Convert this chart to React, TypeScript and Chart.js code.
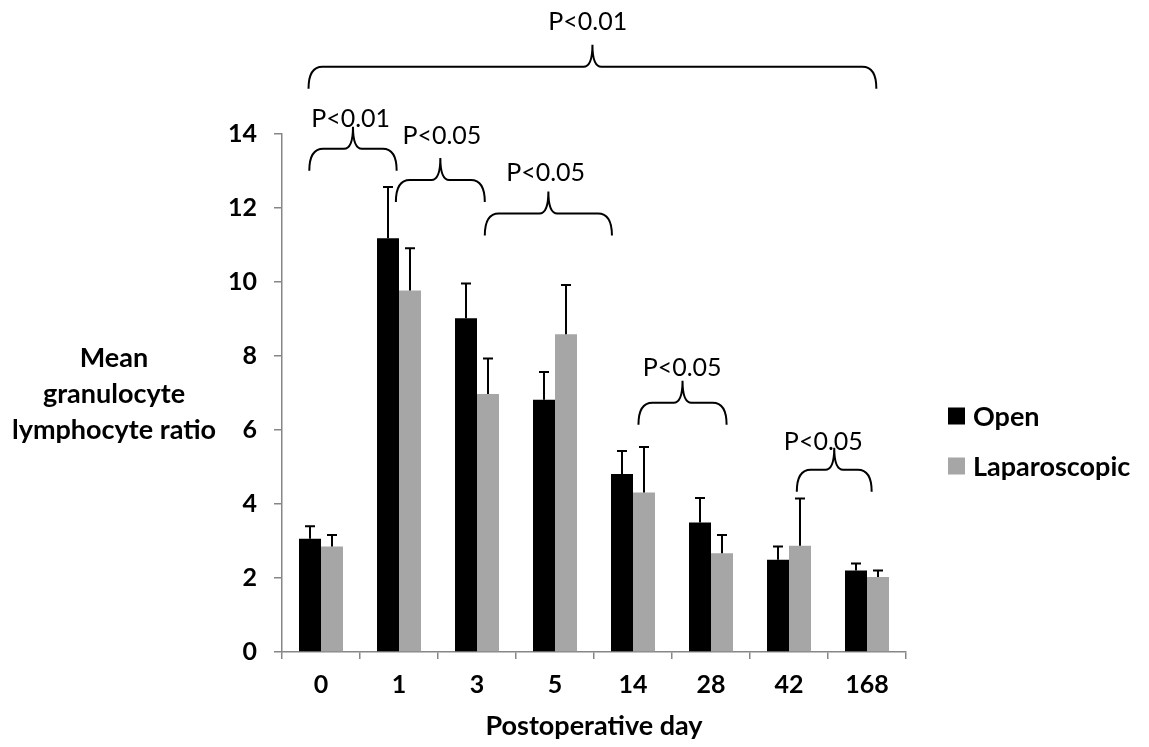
import React, { useEffect, useRef } from "react";
import { Chart, registerables } from "chart.js";

Chart.register(...registerables);

// ---- data ----
const days = ["0", "1", "3", "5", "14", "28", "42", "168"];
const openMean = [3.06, 11.18, 9.02, 6.82, 4.81, 3.5, 2.49, 2.2];
const openSD = [0.34, 1.39, 0.94, 0.75, 0.62, 0.66, 0.36, 0.19];
const lapMean = [2.85, 9.77, 6.97, 8.59, 4.31, 2.67, 2.87, 2.03];
const lapSD = [0.31, 1.14, 0.96, 1.33, 1.23, 0.49, 1.28, 0.17];
const yTicks = [0, 2, 4, 6, 8, 10, 12, 14];

const seriesNames = ["Open", "Laparoscopic"];
const yTitleLines = ["Mean", "granulocyte", "lymphocyte ratio"];
const xTitle = "Postoperative day";

// significance braces (x in category index units, y in data units)
const braceLabels = ["P<0.01", "P<0.01", "P<0.05", "P<0.05", "P<0.05", "P<0.05"];
const braceFrom = [-0.16, -0.15, 0.96, 2.1, 4.07, 6.1];
const braceTo = [7.12, 0.97, 2.1, 3.73, 5.2, 7.06];
const braceBase = [15.22, 13.01, 12.16, 11.26, 6.14, 4.33];
const braceLabelX = [3.42, 0.38, 1.55, 2.88, 4.63, 6.44];
const braceLabelY = [17.03, 14.42, 13.95, 12.95, 7.68, 5.68];

const BLACK = "#000000";
const GREY = "#A6A6A6";
const AXIS = "#868686";
const FONT = "Lato, 'Open Sans', sans-serif";

const errorBarPlugin = {
  id: "errorBars",
  afterDatasetsDraw(chart: any) {
    const ctx = chart.ctx;
    const y = chart.scales.y;
    const sds = [openSD, lapSD];
    const means = [openMean, lapMean];
    ctx.save();
    ctx.strokeStyle = BLACK;
    ctx.lineWidth = 2;
    chart.data.datasets.forEach((_ds: any, di: number) => {
      const meta = chart.getDatasetMeta(di);
      meta.data.forEach((bar: any, i: number) => {
        const top = y.getPixelForValue(means[di][i] + sds[di][i]);
        const base = y.getPixelForValue(means[di][i]);
        ctx.beginPath();
        ctx.moveTo(bar.x, base);
        ctx.lineTo(bar.x, top);
        ctx.moveTo(bar.x - 5, top);
        ctx.lineTo(bar.x + 5, top);
        ctx.stroke();
      });
    });
    ctx.restore();
  },
};

const annotationPlugin = {
  id: "annotations",
  afterDraw(chart: any) {
    const ctx = chart.ctx;
    const xs = chart.scales.x;
    const ys = chart.scales.y;
    ctx.save();
    // braces
    ctx.strokeStyle = BLACK;
    ctx.lineWidth = 2;
    const h = 44;
    braceLabels.forEach((lab, k) => {
      const x1 = xs.getPixelForValue(braceFrom[k]);
      const x2 = xs.getPixelForValue(braceTo[k]);
      const yEnd = ys.getPixelForValue(braceBase[k]);
      const yLine = yEnd - h / 2;
      const yTip = yEnd - h;
      const xm = (x1 + x2) / 2;
      const r = 14;
      const t = 9;
      ctx.beginPath();
      ctx.moveTo(x1, yEnd);
      ctx.quadraticCurveTo(x1, yLine, x1 + r, yLine);
      ctx.lineTo(xm - t, yLine);
      ctx.quadraticCurveTo(xm, yLine, xm, yTip);
      ctx.quadraticCurveTo(xm, yLine, xm + t, yLine);
      ctx.lineTo(x2 - r, yLine);
      ctx.quadraticCurveTo(x2, yLine, x2, yEnd);
      ctx.stroke();
      ctx.fillStyle = BLACK;
      ctx.font = `25px ${FONT}`;
      ctx.textAlign = "center";
      ctx.textBaseline = "middle";
      ctx.fillText(lab, xs.getPixelForValue(braceLabelX[k]), ys.getPixelForValue(braceLabelY[k]));
    });
    // y axis title (horizontal, three lines)
    ctx.font = `bold 27px ${FONT}`;
    ctx.textAlign = "center";
    ctx.textBaseline = "middle";
    ctx.fillStyle = BLACK;
    const ty0 = (ys.top + ys.bottom) / 2 - 35;
    yTitleLines.forEach((line, i) => {
      ctx.fillText(line, 114, ty0 + i * 36);
    });
    // legend
    const colors = [BLACK, GREY];
    ctx.textAlign = "left";
    seriesNames.forEach((name, i) => {
      const cy = 416 + i * 50;
      ctx.fillStyle = colors[i];
      ctx.fillRect(948, cy - 8.5, 17, 17);
      ctx.fillStyle = BLACK;
      ctx.fillText(name, 973, cy + 1);
    });
    ctx.restore();
  },
};

function App() {
  const ref = useRef<HTMLCanvasElement | null>(null);
  useEffect(() => {
    if (!ref.current) return;
    const chart = new Chart(ref.current, {
      type: "bar",
      data: {
        labels: days,
        datasets: [
          {
            label: seriesNames[0],
            data: openMean,
            backgroundColor: BLACK,
            borderWidth: 0,
          },
          {
            label: seriesNames[1],
            data: lapMean,
            backgroundColor: GREY,
            borderWidth: 0,
          },
        ],
      },
      options: {
        responsive: false,
        animation: false,
        devicePixelRatio: 1,
        layout: { padding: { top: 134, right: 243, left: 0, bottom: 0 } },
        datasets: {
          bar: { categoryPercentage: 0.564, barPercentage: 1 },
        },
        plugins: {
          legend: { display: false },
          tooltip: { enabled: false },
          title: { display: false },
        },
        scales: {
          x: {
            grid: {
              display: true,
              drawOnChartArea: false,
              offset: true,
              tickLength: 7,
              color: AXIS,
              lineWidth: 1.5,
            },
            border: { color: AXIS, width: 1.5 },
            ticks: {
              color: BLACK,
              padding: 11,
              font: { family: FONT, size: 25, weight: "bold" },
            },
            title: {
              display: true,
              text: xTitle,
              color: BLACK,
              font: { family: FONT, size: 27, weight: "bold" },
              padding: { top: 4, bottom: 5 },
            },
            afterFit: (s: any) => {
              s.height = 95;
            },
          },
          y: {
            min: 0,
            max: 14,
            afterBuildTicks: (s: any) => {
              s.ticks = yTicks.map((v) => ({ value: v }));
            },
            grid: {
              display: true,
              drawOnChartArea: false,
              tickLength: 8,
              color: AXIS,
              lineWidth: 1.5,
            },
            border: { color: AXIS, width: 1.5 },
            ticks: {
              color: BLACK,
              padding: 17,
              font: { family: FONT, size: 25, weight: "bold" },
            },
            afterFit: (s: any) => {
              s.width = 282;
            },
          },
        },
      },
      plugins: [errorBarPlugin, annotationPlugin],
    } as any);
    return () => chart.destroy();
  }, []);
  return (
    <div style={{ position: "absolute", left: 0, top: 0, width: 1149, height: 747, background: "#fff" }}>
      <canvas ref={ref} width={1149} height={747} style={{ width: 1149, height: 747 }} />
    </div>
  );
}

export default App;
